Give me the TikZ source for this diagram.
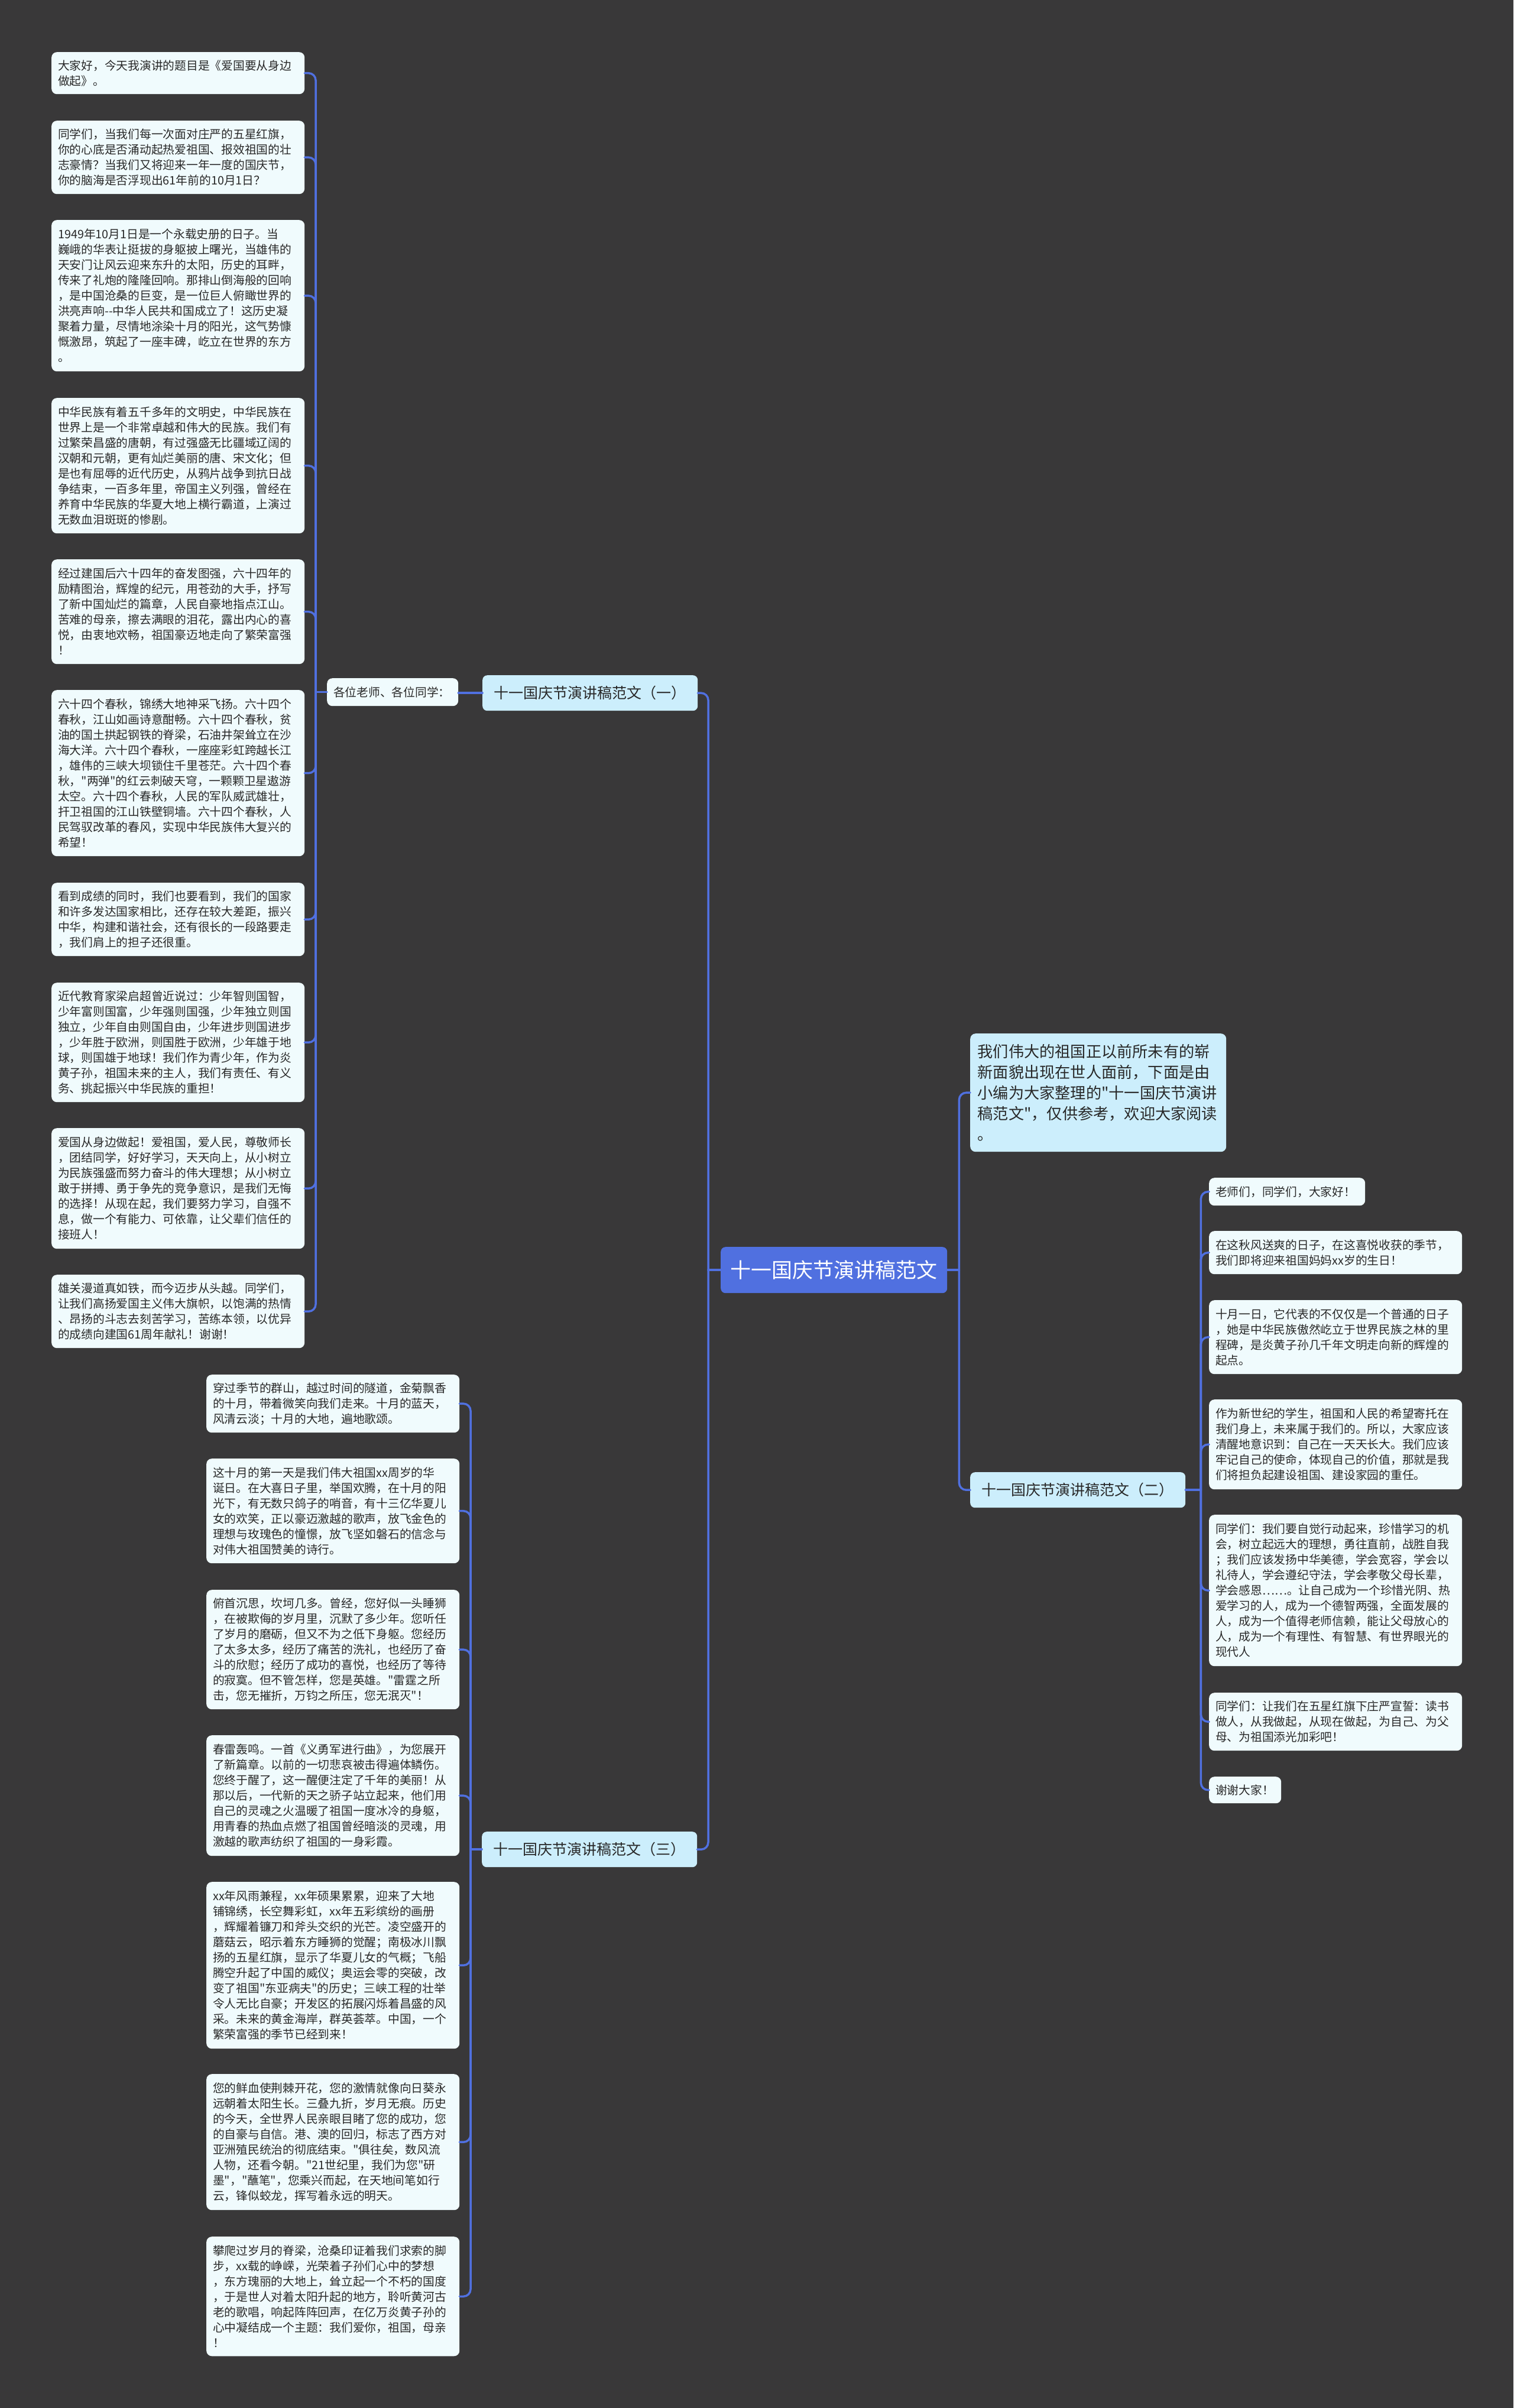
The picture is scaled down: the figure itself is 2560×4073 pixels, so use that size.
\documentclass[tikz,border=0pt]{standalone}
\usepackage{fontspec}
\newfontfamily\cjk{Noto Sans CJK SC}
\definecolor{bgcol}{RGB}{57,56,57}
\definecolor{linkblue}{RGB}{80,112,224}
\definecolor{leaffill}{RGB}{240,251,253}
\definecolor{branchfill}{RGB}{204,238,252}
\definecolor{txt}{RGB}{40,40,40}
\begin{document}
\begin{tikzpicture}[x=1pt,y=-1pt,
  leaf/.style={fill=leaffill, rounded corners=9pt, anchor=north west, align=left,
    inner xsep=11pt, inner ysep=2pt, text width=406pt, text=txt,
    font=\cjk\fontsize{19.75pt}{26pt}\selectfont},
  branch/.style={fill=branchfill, rounded corners=8pt, anchor=north west,
    minimum width=364pt, minimum height=60pt, inner sep=0pt, text=txt,
    font=\cjk\fontsize{25pt}{30pt}\selectfont},
  rootnode/.style={fill=linkblue, rounded corners=8pt, anchor=north west,
    minimum width=383pt, minimum height=78pt, inner sep=0pt, text=white,
    font=\cjk\fontsize{35pt}{40pt}\selectfont},
  conn/.style={draw=linkblue, line width=3.5pt, rounded corners=12pt, line cap=round}]
\fill[bgcol] (0,0) rectangle (2560,4073);
\useasboundingbox (0,0) rectangle (2560,4073);

% root and branches
\node[rootnode] (root) at (1219,2109) {十一国庆节演讲稿范文};
\node[branch] (Bone) at (816,1142) {十一国庆节演讲稿范文（一）};
\node[branch] (Btwo) at (1641,2490) {十一国庆节演讲稿范文（二）};
\node[branch] (Bthree) at (815,3098) {十一国庆节演讲稿范文（三）};
\node[fill=branchfill, rounded corners=9pt, anchor=north west, align=left,
  inner xsep=12.5pt, inner ysep=2pt, text width=408pt, minimum height=200pt, text=txt,
  font=\cjk\fontsize{26.2pt}{35pt}\selectfont] (intro) at (1641,1748)
  {我们伟大的祖国正以前所未有的崭\\新面貌出现在世人面前，下面是由\\小编为大家整理的"十一国庆节演讲\\稿范文"，仅供参考，欢迎大家阅读\\。};
\node[leaf, text width=200pt, minimum height=47pt] (gw) at (553,1147) {各位老师、各位同学：};

% branch one leaves
\node[leaf, minimum height=71pt] (L1) at (87,88) {大家好，今天我演讲的题目是《爱国要从身边\\做起》。};
\node[leaf, minimum height=124pt] (L2) at (87,204) {同学们，当我们每一次面对庄严的五星红旗，\\你的心底是否涌动起热爱祖国、报效祖国的壮\\志豪情？当我们又将迎来一年一度的国庆节，\\你的脑海是否浮现出61年前的10月1日？};
\node[leaf, minimum height=256pt] (L3) at (87,372) {1949年10月1日是一个永载史册的日子。当\\巍峨的华表让挺拔的身躯披上曙光，当雄伟的\\天安门让风云迎来东升的太阳，历史的耳畔，\\传来了礼炮的隆隆回响。那排山倒海般的回响\\，是中国沧桑的巨变，是一位巨人俯瞰世界的\\洪亮声响--中华人民共和国成立了！这历史凝\\聚着力量，尽情地涂染十月的阳光，这气势慷\\慨激昂，筑起了一座丰碑，屹立在世界的东方\\。};
\node[leaf, minimum height=229pt] (L4) at (87,673) {中华民族有着五千多年的文明史，中华民族在\\世界上是一个非常卓越和伟大的民族。我们有\\过繁荣昌盛的唐朝，有过强盛无比疆域辽阔的\\汉朝和元朝，更有灿烂美丽的唐、宋文化；但\\是也有屈辱的近代历史，从鸦片战争到抗日战\\争结束，一百多年里，帝国主义列强，曾经在\\养育中华民族的华夏大地上横行霸道，上演过\\无数血泪斑斑的惨剧。};
\node[leaf, minimum height=177pt] (L5) at (87,946) {经过建国后六十四年的奋发图强，六十四年的\\励精图治，辉煌的纪元，用苍劲的大手，抒写\\了新中国灿烂的篇章，人民自豪地指点江山。\\苦难的母亲，擦去满眼的泪花，露出内心的喜\\悦，由衷地欢畅，祖国豪迈地走向了繁荣富强\\！};
\node[leaf, minimum height=281pt] (L6) at (87,1167) {六十四个春秋，锦绣大地神采飞扬。六十四个\\春秋，江山如画诗意酣畅。六十四个春秋，贫\\油的国土拱起钢铁的脊梁，石油井架耸立在沙\\海大洋。六十四个春秋，一座座彩虹跨越长江\\，雄伟的三峡大坝锁住千里苍茫。六十四个春\\秋，"两弹"的红云刺破天穹，一颗颗卫星遨游\\太空。六十四个春秋，人民的军队威武雄壮，\\扞卫祖国的江山铁壁铜墙。六十四个春秋，人\\民驾驭改革的春风，实现中华民族伟大复兴的\\希望！};
\node[leaf, minimum height=124pt] (L7) at (87,1493) {看到成绩的同时，我们也要看到，我们的国家\\和许多发达国家相比，还存在较大差距，振兴\\中华，构建和谐社会，还有很长的一段路要走\\，我们肩上的担子还很重。};
\node[leaf, minimum height=202pt] (L8) at (87,1662) {近代教育家梁启超曾近说过：少年智则国智，\\少年富则国富，少年强则国强，少年独立则国\\独立，少年自由则国自由，少年进步则国进步\\，少年胜于欧洲，则国胜于欧洲，少年雄于地\\球，则国雄于地球！我们作为青少年，作为炎\\黄子孙，祖国未来的主人，我们有责任、有义\\务、挑起振兴中华民族的重担！};
\node[leaf, minimum height=204pt] (L9) at (87,1908) {爱国从身边做起！爱祖国，爱人民，尊敬师长\\，团结同学，好好学习，天天向上，从小树立\\为民族强盛而努力奋斗的伟大理想；从小树立\\敢于拼搏、勇于争先的竞争意识，是我们无悔\\的选择！从现在起，我们要努力学习，自强不\\息，做一个有能力、可依靠，让父辈们信任的\\接班人！};
\node[leaf, minimum height=124pt] (L10) at (87,2156) {雄关漫道真如铁，而今迈步从头越。同学们，\\让我们高扬爱国主义伟大旗帜，以饱满的热情\\、昂扬的斗志去刻苦学习，苦练本领，以优异\\的成绩向建国61周年献礼！谢谢！};

% branch two leaves
\node[leaf, text width=242pt, minimum height=47pt] (R1) at (2045,1992) {老师们，同学们，大家好！};
\node[leaf, minimum height=73pt] (R2) at (2045,2082) {在这秋风送爽的日子，在这喜悦收获的季节，\\我们即将迎来祖国妈妈xx岁的生日！};
\node[leaf, minimum height=125pt] (R3) at (2045,2199) {十月一日，它代表的不仅仅是一个普通的日子\\，她是中华民族傲然屹立于世界民族之林的里\\程碑，是炎黄子孙几千年文明走向新的辉煌的\\起点。};
\node[leaf, minimum height=152pt] (R4) at (2045,2367) {作为新世纪的学生，祖国和人民的希望寄托在\\我们身上，未来属于我们的。所以，大家应该\\清醒地意识到：自己在一天天长大。我们应该\\牢记自己的使命，体现自己的价值，那就是我\\们将担负起建设祖国、建设家园的重任。};
\node[leaf, minimum height=256pt] (R5) at (2045,2562) {同学们：我们要自觉行动起来，珍惜学习的机\\会，树立起远大的理想，勇往直前，战胜自我\\；我们应该发扬中华美德，学会宽容，学会以\\礼待人，学会遵纪守法，学会孝敬父母长辈，\\学会感恩……。让自己成为一个珍惜光阴、热\\爱学习的人，成为一个德智两强，全面发展的\\人，成为一个值得老师信赖，能让父母放心的\\人，成为一个有理性、有智慧、有世界眼光的\\现代人};
\node[leaf, minimum height=98pt] (R6) at (2045,2863) {同学们：让我们在五星红旗下庄严宣誓：读书\\做人，从我做起，从现在做起，为自己、为父\\母、为祖国添光加彩吧！};
\node[leaf, text width=100pt, minimum height=45pt] (R7) at (2045,3005) {谢谢大家！};

% branch three leaves
\node[leaf, minimum height=98pt] (T1) at (349,2325) {穿过季节的群山，越过时间的隧道，金菊飘香\\的十月，带着微笑向我们走来。十月的蓝天，\\风清云淡；十月的大地，遍地歌颂。};
\node[leaf, minimum height=177pt] (T2) at (349,2467) {这十月的第一天是我们伟大祖国xx周岁的华\\诞日。在大喜日子里，举国欢腾，在十月的阳\\光下，有无数只鸽子的哨音，有十三亿华夏儿\\女的欢笑，正以豪迈激越的歌声，放飞金色的\\理想与玫瑰色的憧憬，放飞坚如磐石的信念与\\对伟大祖国赞美的诗行。};
\node[leaf, minimum height=202pt] (T3) at (349,2689) {俯首沉思，坎坷几多。曾经，您好似一头睡狮\\，在被欺侮的岁月里，沉默了多少年。您听任\\了岁月的磨砺，但又不为之低下身躯。您经历\\了太多太多，经历了痛苦的洗礼，也经历了奋\\斗的欣慰；经历了成功的喜悦，也经历了等待\\的寂寞。但不管怎样，您是英雄。"雷霆之所\\击，您无摧折，万钧之所压，您无泯灭"！};
\node[leaf, minimum height=204pt] (T4) at (349,2935) {春雷轰鸣。一首《义勇军进行曲》，为您展开\\了新篇章。以前的一切悲哀被击得遍体鳞伤。\\您终于醒了，这一醒便注定了千年的美丽！从\\那以后，一代新的天之骄子站立起来，他们用\\自己的灵魂之火温暖了祖国一度冰冷的身躯，\\用青春的热血点燃了祖国曾经暗淡的灵魂，用\\激越的歌声纺织了祖国的一身彩霞。};
\node[leaf, minimum height=282pt] (T5) at (349,3183) {xx年风雨兼程，xx年硕果累累，迎来了大地\\铺锦绣，长空舞彩虹，xx年五彩缤纷的画册\\，辉耀着镰刀和斧头交织的光芒。凌空盛开的\\蘑菇云，昭示着东方睡狮的觉醒；南极冰川飘\\扬的五星红旗，显示了华夏儿女的气概；飞船\\腾空升起了中国的威仪；奥运会零的突破，改\\变了祖国"东亚病夫"的历史；三峡工程的壮举\\令人无比自豪；开发区的拓展闪烁着昌盛的风\\采。未来的黄金海岸，群英荟萃。中国，一个\\繁荣富强的季节已经到来！};
\node[leaf, minimum height=230pt] (T6) at (349,3508) {您的鲜血使荆棘开花，您的激情就像向日葵永\\远朝着太阳生长。三叠九折，岁月无痕。历史\\的今天，全世界人民亲眼目睹了您的成功，您\\的自豪与自信。港、澳的回归，标志了西方对\\亚洲殖民统治的彻底结束。"俱往矣，数风流\\人物，还看今朝。"21世纪里，我们为您"研\\墨"，"蘸笔"，您乘兴而起，在天地间笔如行\\云，锋似蛟龙，挥写着永远的明天。};
\node[leaf, minimum height=202pt] (T7) at (349,3783) {攀爬过岁月的脊梁，沧桑印证着我们求索的脚\\步，xx载的峥嵘，光荣着子孙们心中的梦想\\，东方瑰丽的大地上，耸立起一个不朽的国度\\，于是世人对着太阳升起的地方，聆听黄河古\\老的歌唱，响起阵阵回声，在亿万炎黄子孙的\\心中凝结成一个主题：我们爱你，祖国，母亲\\！};

% spine coordinates
\coordinate (s0) at ([xshift=-21pt]root.west);
\coordinate (sR) at ([xshift=20pt]root.east);
\coordinate (s1) at ([xshift=-19pt]gw.west);
\coordinate (s2) at ([xshift=26pt]Btwo.east);
\coordinate (s3) at ([xshift=-19pt]Bthree.west);

% connectors
\draw[conn] (root.west) -- (s0);
\draw[conn] (s0) |- (Bone.east);
\draw[conn] (s0) |- (Bthree.east);
\draw[conn] (root.east) -- (sR);
\draw[conn] (sR) |- (intro.west);
\draw[conn] (sR) |- (Btwo.west);
\draw[conn] (Bone.west) -- (Bone.west -| gw.east);
\draw[conn] (gw.west) -- (s1);
\foreach \c in {L1,L2,L3,L4,L5,L6,L7,L8,L9,L10} \draw[conn] (s1) |- (\c.east);
\draw[conn] (Btwo.east) -- (s2);
\foreach \c in {R1,R2,R3,R4,R5,R6,R7} \draw[conn] (s2) |- (\c.west);
\draw[conn] (Bthree.west) -- (s3);
\foreach \c in {T1,T2,T3,T4,T5,T6,T7} \draw[conn] (s3) |- (\c.east);
\end{tikzpicture}
\end{document}
